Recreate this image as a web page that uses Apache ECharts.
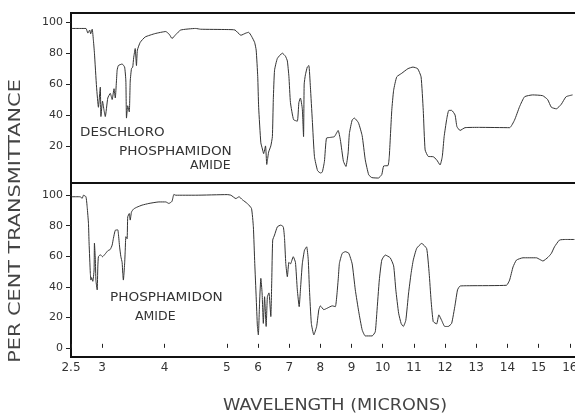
<!DOCTYPE html>
<html>
<head>
<meta charset="utf-8">
<script src="https://cdn.jsdelivr.net/npm/echarts@6/dist/echarts.min.js"></script>
<style>html,body{margin:0;padding:0;background:#fff;}#c{width:575px;height:418px;}</style>
</head>
<body>
<div id="c"></div>
<script>
// Wavelength (microns) tick marks and labels
const tickMicrons = [2.5, 3, 4, 5, 6, 7, 8, 9, 10, 11, 12, 13, 14, 15, 16];
const tickLabels = ['2.5', '3', '4', '5', '6', '7', '8', '9', '10', '11', '12', '13', '14', '15', '16'];
const yTicksTop = [20, 40, 60, 80, 100];
const yTicksBottom = [0, 20, 40, 60, 80, 100];

// Top spectrum: DESCHLORO PHOSPHAMIDON AMIDE
const topWave = [2.51, 2.645, 2.74, 2.77, 2.80, 2.815, 2.84, 2.86, 2.876, 2.91, 2.94, 2.97, 2.98, 3.005, 3.03, 3.05, 3.09, 3.13, 3.16, 3.19, 3.21, 3.24, 3.26, 3.32, 3.36, 3.38, 3.39, 3.41, 3.435, 3.45, 3.47, 3.49, 3.505, 3.53, 3.55, 3.565, 3.61, 3.69, 3.85, 4.02, 4.08, 4.12, 4.18, 4.26, 4.5, 4.58, 5.0, 5.26, 5.45, 5.61, 5.70, 5.79, 5.89, 5.94, 5.99, 6.02, 6.09, 6.14, 6.18, 6.24, 6.28, 6.31, 6.34, 6.41, 6.46, 6.49, 6.53, 6.62, 6.78, 6.88, 6.94, 6.99, 7.04, 7.14, 7.26, 7.31, 7.36, 7.42, 7.46, 7.48, 7.52, 7.58, 7.63, 7.68, 7.74, 7.81, 7.91, 8.0, 8.06, 8.13, 8.195, 8.32, 8.45, 8.57, 8.64, 8.74, 8.82, 8.89, 8.93, 9.02, 9.09, 9.22, 9.34, 9.44, 9.55, 9.65, 9.86, 9.97, 10.03, 10.17, 10.21, 10.29, 10.35, 10.45, 10.61, 10.81, 10.97, 11.12, 11.23, 11.30, 11.36, 11.46, 11.62, 11.73, 11.84, 11.91, 11.97, 12.05, 12.12, 12.21, 12.32, 12.38, 12.48, 12.64, 13.11, 14.07, 14.23, 14.39, 14.55, 14.81, 15.13, 15.29, 15.41, 15.57, 15.73, 15.88, 16.09];
const topTrans = [96, 96, 96, 93, 95, 92.5, 95.5, 88, 80, 58, 45, 58, 39, 49, 43, 39, 51, 54, 50, 57, 51, 69, 72, 73, 71, 62, 38, 46, 42, 62, 70, 71, 77, 83, 72, 82, 87, 90.5, 92.7, 94, 92, 89.5, 92, 95, 96, 95.5, 95.3, 95, 91.6, 93, 93.5, 91, 87, 82, 65, 45, 22, 18, 15, 20, 8, 12, 16, 20, 26, 50, 69, 76.6, 80, 78, 75, 65, 48, 37, 36, 48, 51, 44, 26, 60, 66, 71, 72, 58, 37, 13, 4, 2.5, 3, 10, 25, 25.5, 26, 30, 24, 10, 6.7, 15.5, 28, 36.8, 38, 35, 26.6, 11, 1.3, -0.5, -0.8, 1.5, 7, 7.3, 13, 43, 56, 64.7, 67, 70, 71, 70, 64.7, 43, 17.4, 13.2, 13, 11, 7.7, 13, 26, 37, 43, 43, 40, 32.5, 30, 31.8, 32, 31.8, 36.8, 45.4, 51.8, 53, 52.5, 50, 45, 44, 47, 51.8, 53];

// Bottom spectrum: PHOSPHAMIDON AMIDE
const botWave = [2.51, 2.645, 2.68, 2.70, 2.74, 2.76, 2.78, 2.79, 2.81, 2.82, 2.83, 2.85, 2.87, 2.876, 2.89, 2.90, 2.92, 2.93, 2.94, 2.97, 3.005, 3.05, 3.09, 3.13, 3.16, 3.18, 3.21, 3.25, 3.26, 3.28, 3.30, 3.32, 3.33, 3.34, 3.36, 3.37, 3.38, 3.40, 3.41, 3.435, 3.45, 3.47, 3.505, 3.56, 3.64, 3.75, 3.91, 4.02, 4.07, 4.12, 4.15, 4.18, 4.5, 5.01, 5.13, 5.29, 5.39, 5.50, 5.66, 5.79, 5.85, 5.895, 5.94, 5.98, 6.01, 6.05, 6.09, 6.13, 6.17, 6.21, 6.26, 6.30, 6.35, 6.41, 6.44, 6.47, 6.53, 6.62, 6.73, 6.81, 6.85, 6.89, 6.94, 6.99, 7.04, 7.13, 7.20, 7.26, 7.32, 7.36, 7.42, 7.49, 7.56, 7.61, 7.65, 7.71, 7.79, 7.88, 7.95, 8.0, 8.11, 8.22, 8.38, 8.48, 8.57, 8.61, 8.70, 8.80, 8.91, 9.02, 9.12, 9.23, 9.34, 9.44, 9.66, 9.76, 9.81, 9.89, 9.97, 10.08, 10.24, 10.35, 10.42, 10.51, 10.59, 10.66, 10.74, 10.83, 10.91, 10.98, 11.09, 11.25, 11.41, 11.49, 11.55, 11.62, 11.73, 11.80, 11.89, 11.99, 12.10, 12.21, 12.32, 12.40, 12.48, 12.80, 13.97, 14.07, 14.18, 14.29, 14.50, 14.93, 15.03, 15.14, 15.30, 15.41, 15.51, 15.67, 15.86, 16.15];
const botTrans = [99, 99, 98, 100, 99, 92, 81.6, 68.6, 49, 44.4, 46, 43.6, 51, 68.6, 58, 44, 38, 53, 59.7, 61, 59.7, 61.6, 63.6, 64.5, 67.3, 71.7, 77, 77.3, 74.8, 66, 59.7, 56, 49, 44.4, 55, 64, 72.8, 71.5, 85.8, 88, 83.7, 89, 91, 92.2, 93.5, 94.6, 95.6, 95.6, 94.6, 96, 100.5, 100, 100, 100.4, 100, 97.8, 99, 97, 94.5, 91.3, 79.3, 55.3, 33.5, 14, 8.5, 30, 45.5, 36, 16, 33.5, 14, 33.5, 36, 20.5, 44, 70.6, 73.9, 79.3, 80.4, 79.3, 71.7, 55.3, 46.6, 56, 55, 59.7, 56, 38, 27, 38, 55, 64, 66.2, 58, 38, 16, 8.5, 14, 25, 27.5, 25, 26, 27.5, 27, 44.4, 55.3, 61.9, 63, 62, 55, 38, 23.7, 11.8, 7.8, 7.8, 10.5, 22.7, 44.4, 57.5, 60.8, 59, 53.7, 38, 22.7, 16, 14, 18, 36, 48.8, 57.5, 65.2, 68.4, 65, 48.8, 31.4, 17.2, 15.7, 21.6, 18, 14, 14, 16, 28, 38, 40.5, 40.7, 41, 44.4, 53, 57.5, 59, 59, 58, 56.9, 59.3, 61.9, 66.2, 70.6, 71, 71];

// Chart axis: 2.5-5 um drawn at double scale, 5-16 um linear
const toU = w => (w < 5 ? 2 * (w - 2.5) : w);
const pairs = (xs, ys) => xs.map((w, i) => [toU(w), ys[i]]);
const tickU = tickMicrons.map(toU);
const labelFor = v => {
  const i = tickU.findIndex(u => Math.abs(u - v) < 1e-6);
  return i >= 0 ? tickLabels[i] : '';
};

const chart = echarts.init(document.getElementById('c'), null, {renderer: 'canvas'});
const FONT = 'DejaVu Sans';
const lineColor = '#333';
const gridCommon = {left: 71, width: 505, show: true, borderColor: '#111', borderWidth: 2,
  containLabel: false, outerBoundsMode: 'none'};

const xAxisBase = (gridIndex, showLabels) => ({
  type: 'value', gridIndex, min: 0, max: 16.2, interval: 1,
  axisLine: {show: false},
  splitLine: {show: false},
  axisTick: {show: showLabels, inside: true, length: 4, lineStyle: {color: '#222'},
    customValues: tickU},
  axisLabel: {show: showLabels, color: '#333', fontFamily: FONT, fontSize: 12, margin: 5,
    customValues: tickU, formatter: v => labelFor(v), hideOverlap: false}
});

const yAxisBase = (gridIndex, min, max, ticks) => ({
  type: 'value', gridIndex, min, max,
  axisLine: {show: false},
  splitLine: {show: false},
  axisTick: {show: true, length: 5, lineStyle: {color: '#222'}, customValues: ticks},
  axisLabel: {color: '#333', fontFamily: FONT, fontSize: 11, margin: 8, customValues: ticks}
});

const option = {
  animation: false,
  backgroundColor: '#fff',
  grid: [
    Object.assign({top: 13, height: 170}, gridCommon),
    Object.assign({top: 183, height: 174}, gridCommon)
  ],
  xAxis: [xAxisBase(0, false), xAxisBase(1, true)],
  yAxis: [yAxisBase(0, -4, 106, yTicksTop), yAxisBase(1, -6, 108, yTicksBottom)],
  series: [
    {type: 'line', xAxisIndex: 0, yAxisIndex: 0, data: pairs(topWave, topTrans),
     showSymbol: false, smooth: 0.15, lineStyle: {color: lineColor, width: 1}},
    {type: 'line', xAxisIndex: 1, yAxisIndex: 1, data: pairs(botWave, botTrans),
     showSymbol: false, smooth: 0.15, lineStyle: {color: lineColor, width: 1}}
  ],
  graphic: [
    {type: 'text', x: 16, y: 221, rotation: Math.PI / 2, scaleX: 1.3,
     style: {text: 'PER CENT TRANSMITTANCE', font: '16px "DejaVu Sans"', fill: '#444', align: 'center', verticalAlign: 'middle'}},
    {type: 'text', x: 335, y: 406, scaleX: 1.1,
     style: {text: 'WAVELENGTH (MICRONS)', font: '16px "DejaVu Sans"', fill: '#444', align: 'center', verticalAlign: 'middle'}},
    {type: 'text', x: 80, y: 133, scaleX: 1.08,
     style: {text: 'DESCHLORO', font: '12.5px "DejaVu Sans"', fill: '#333', align: 'left', verticalAlign: 'middle'}},
    {type: 'text', x: 119, y: 152, scaleX: 1.09,
     style: {text: 'PHOSPHAMIDON', font: '12.5px "DejaVu Sans"', fill: '#333', align: 'left', verticalAlign: 'middle'}},
    {type: 'text', x: 190, y: 166, scaleX: 1.0,
     style: {text: 'AMIDE', font: '12.5px "DejaVu Sans"', fill: '#333', align: 'left', verticalAlign: 'middle'}},
    {type: 'text', x: 110, y: 298, scaleX: 1.09,
     style: {text: 'PHOSPHAMIDON', font: '12.5px "DejaVu Sans"', fill: '#333', align: 'left', verticalAlign: 'middle'}},
    {type: 'text', x: 135, y: 317, scaleX: 1.0,
     style: {text: 'AMIDE', font: '12.5px "DejaVu Sans"', fill: '#333', align: 'left', verticalAlign: 'middle'}}
  ]
};
chart.setOption(option);
</script>
</body>
</html>
